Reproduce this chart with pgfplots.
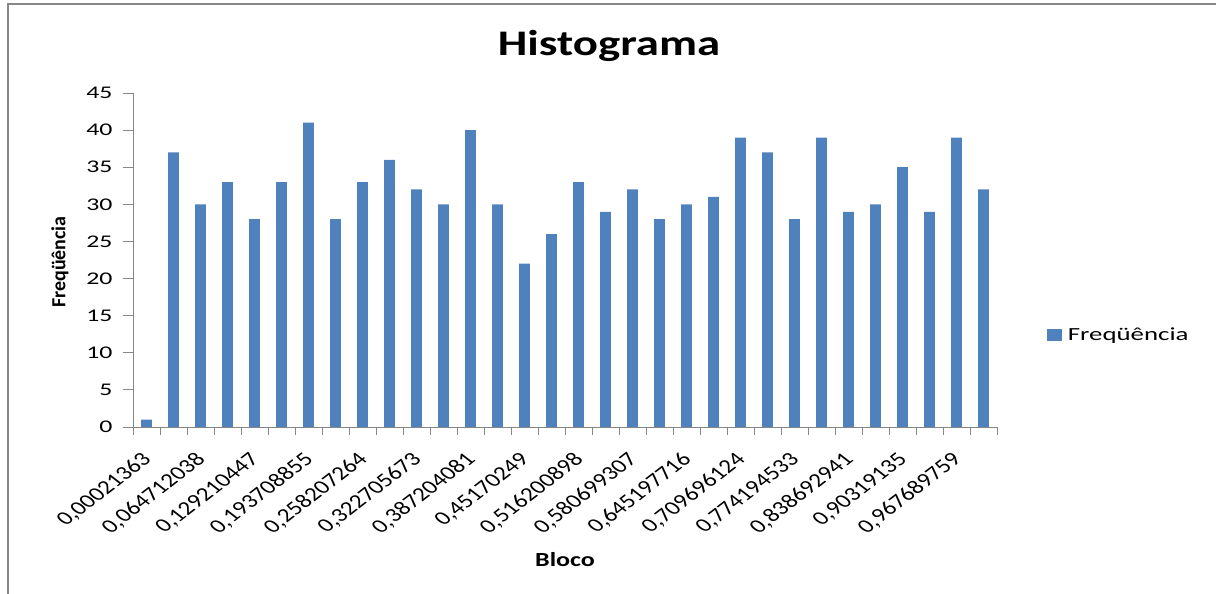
\documentclass[border=0pt]{standalone}
\usepackage{fontspec}
\usepackage{pgfplots}
\pgfplotsset{compat=1.18}
\setmainfont{Carlito}
\newfontfamily\tickfont[FakeStretch=1.45]{Carlito}
\newfontfamily\titlefont[FakeStretch=1.3]{Carlito}
\newfontfamily\plainfont{Carlito}
\definecolor{barblue}{RGB}{79,129,189}
\definecolor{axgray}{RGB}{134,134,134}
\begin{document}
\begin{tikzpicture}[x=1pt,y=1pt]
\useasboundingbox (0,0) rectangle (1216,594);
\draw[axgray,line width=1.2pt] (8,0) -- (8,590) -- (1216,590);
\begin{axis}[
  at={(133pt,167pt)}, anchor=south west,
  scale only axis, width=864pt, height=334pt,
  xmin=-0.5, xmax=31.5, ymin=0, ymax=45,
  ybar, bar width=10.8pt,
  axis x line*=bottom, axis y line*=left,
  axis line style={axgray, line width=0.9pt},
  tick align=outside,
  xtick={0,2,...,30},
  xticklabels={{0,00021363},{0,064712038},{0,129210447},{0,193708855},{0,258207264},{0,322705673},{0,387204081},{0,45170249},{0,516200898},{0,580699307},{0,645197716},{0,709696124},{0,774194533},{0,838692941},{0,90319135},{0,967689759}},
  major x tick style={draw=none},
  minor xtick={-0.5,0.5,...,31.5},
  minor tick length=8pt,
  minor x tick style={axgray, line width=0.9pt},
  ytick={0,5,...,45},
  major tick length=10pt,
  major y tick style={axgray, line width=0.9pt},
  yticklabel style={font=\tickfont\fontsize{17.8}{20}\selectfont, xshift=-7pt},
  xticklabel style={font=\plainfont\fontsize{19.5}{21}\selectfont, anchor=east, inner sep=1pt, xshift=2pt, yshift=-19pt, cm={0.9192,0.7071,-0.9192,0.7071,(0,0)}},
  /pgf/number format/assume math mode=true,
  legend style={at={(rel axis cs:1.054,0.2754)}, anchor=west, draw=none, fill=none, font=\tickfont\fontsize{18.5}{20}\selectfont},
  legend image code/.code={\fill[barblue] (-14pt,-6pt) rectangle (1pt,6pt); \path (5pt,0pt);},
]
\addplot[fill=barblue, draw=none] coordinates {
(0,1) (1,37) (2,30) (3,33) (4,28) (5,33) (6,41) (7,28) (8,33) (9,36)
(10,32) (11,30) (12,40) (13,30) (14,22) (15,26) (16,33) (17,29) (18,32) (19,28)
(20,30) (21,31) (22,39) (23,37) (24,28) (25,39) (26,29) (27,30) (28,35) (29,29)
(30,39) (31,32)};
\addlegendentry{Freqüência}
\end{axis}
\node at (609,548) {\titlefont\bfseries\fontsize{36}{40}\selectfont Histograma};
\node at (565,34) {\titlefont\bfseries\fontsize{20}{24}\selectfont Bloco};
\node[rotate=90] at (60,332) {\plainfont\bfseries\fontsize{20}{24}\selectfont Freqüência};
\end{tikzpicture}
\end{document}
